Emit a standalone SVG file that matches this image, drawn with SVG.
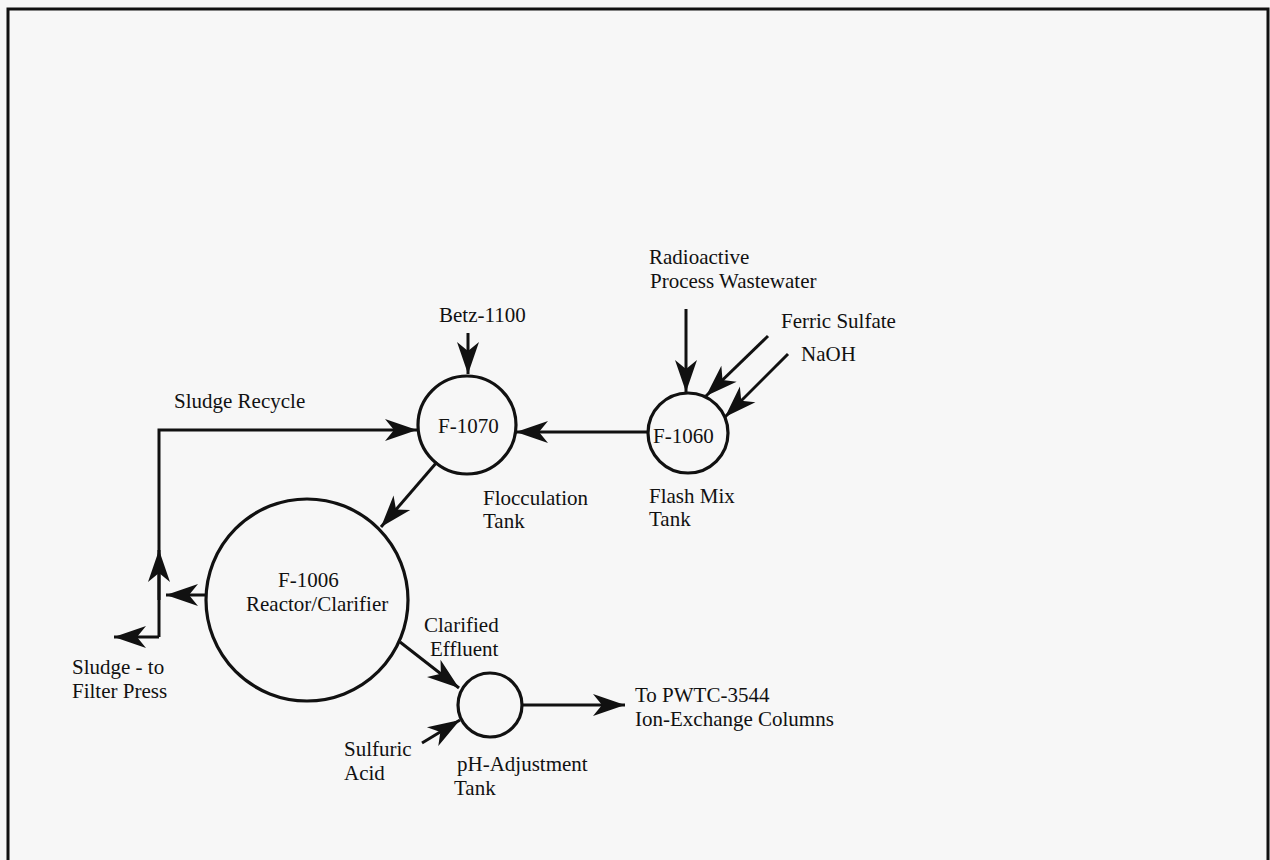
<svg xmlns="http://www.w3.org/2000/svg" width="1270" height="860" viewBox="0 0 1270 860">
<style>
  text { font-family: "Liberation Serif", "Times New Roman", serif; font-size: 21px; fill: #111; }
  .ln { fill: none; stroke: #111; stroke-width: 3; }
  .node { fill: none; stroke: #111; stroke-width: 3.2; }
  .border { fill: none; stroke: #111; stroke-width: 3; }
</style>
<defs>
  <marker id="arr" markerUnits="userSpaceOnUse" markerWidth="34" markerHeight="24" refX="32" refY="12" orient="auto" overflow="visible">
    <path d="M0,1 L32,12 L0,23 L9,12 Z" fill="#111"/>
  </marker>
</defs>
<rect x="0" y="0" width="1270" height="860" fill="#f7f7f7"/>
<path class="border" d="M8,860 L8,9 L1268,9 L1268,860"/>

<g id="connectors">
  <!-- Betz-1100 into F-1070 -->
  <path class="ln" d="M468,333 L468,374" marker-end="url(#arr)"/>
  <!-- F-1060 to F-1070 -->
  <path class="ln" d="M648,432 L516,432" marker-end="url(#arr)"/>
  <!-- Radioactive wastewater into F-1060 -->
  <path class="ln" d="M686,309 L686,392" marker-end="url(#arr)"/>
  <!-- Ferric sulfate -->
  <path class="ln" d="M768,336 L706,396" marker-end="url(#arr)"/>
  <!-- NaOH -->
  <path class="ln" d="M788,354 L725,417" marker-end="url(#arr)"/>
  <!-- F-1070 to F-1006 -->
  <path class="ln" d="M437,462 L381,527" marker-end="url(#arr)"/>
  <!-- F-1006 sludge out -->
  <path class="ln" d="M206,595 L166,595" marker-end="url(#arr)"/>
  <!-- Sludge recycle loop -->
  <path class="ln" d="M159,637 L159,430 L417,430" marker-end="url(#arr)"/>
  <path class="ln" d="M159,600 L159,550" marker-end="url(#arr)"/>
  <!-- Sludge to filter press -->
  <path class="ln" d="M159,637 L114,637" marker-end="url(#arr)"/>
  <!-- Clarified effluent to pH tank -->
  <path class="ln" d="M400,642 L459,688" marker-end="url(#arr)"/>
  <!-- Sulfuric acid -->
  <path class="ln" d="M422,743 L460,720" marker-end="url(#arr)"/>
  <!-- pH tank out -->
  <path class="ln" d="M522,705 L625,705" marker-end="url(#arr)"/>
</g>

<g id="node-f1070">
  <circle class="node" cx="467" cy="425" r="49"/>
  <text x="438" y="433">F-1070</text>
  <text x="483" y="505">Flocculation</text>
  <text x="483" y="528">Tank</text>
</g>

<g id="node-f1060">
  <circle class="node" cx="688" cy="433" r="40"/>
  <text x="653" y="443">F-1060</text>
  <text x="649" y="503">Flash Mix</text>
  <text x="649" y="526">Tank</text>
</g>

<g id="node-f1006">
  <circle class="node" cx="307" cy="600" r="101"/>
  <text x="278" y="587">F-1006</text>
  <text x="246" y="611">Reactor/Clarifier</text>
</g>

<g id="node-ph">
  <circle class="node" cx="490" cy="705" r="32"/>
  <text x="457" y="771">pH-Adjustment</text>
  <text x="454" y="795">Tank</text>
</g>

<g id="labels">
  <text x="649" y="264">Radioactive</text>
  <text x="650" y="288">Process Wastewater</text>
  <text x="439" y="322">Betz-1100</text>
  <text x="781" y="328">Ferric Sulfate</text>
  <text x="801" y="361">NaOH</text>
  <text x="174" y="408">Sludge Recycle</text>
  <text x="72" y="674">Sludge - to</text>
  <text x="72" y="698">Filter Press</text>
  <text x="424" y="632">Clarified</text>
  <text x="430" y="656">Effluent</text>
  <text x="344" y="756">Sulfuric</text>
  <text x="344" y="780">Acid</text>
  <text x="635" y="702">To PWTC-3544</text>
  <text x="635" y="726">Ion-Exchange Columns</text>
</g>
</svg>
